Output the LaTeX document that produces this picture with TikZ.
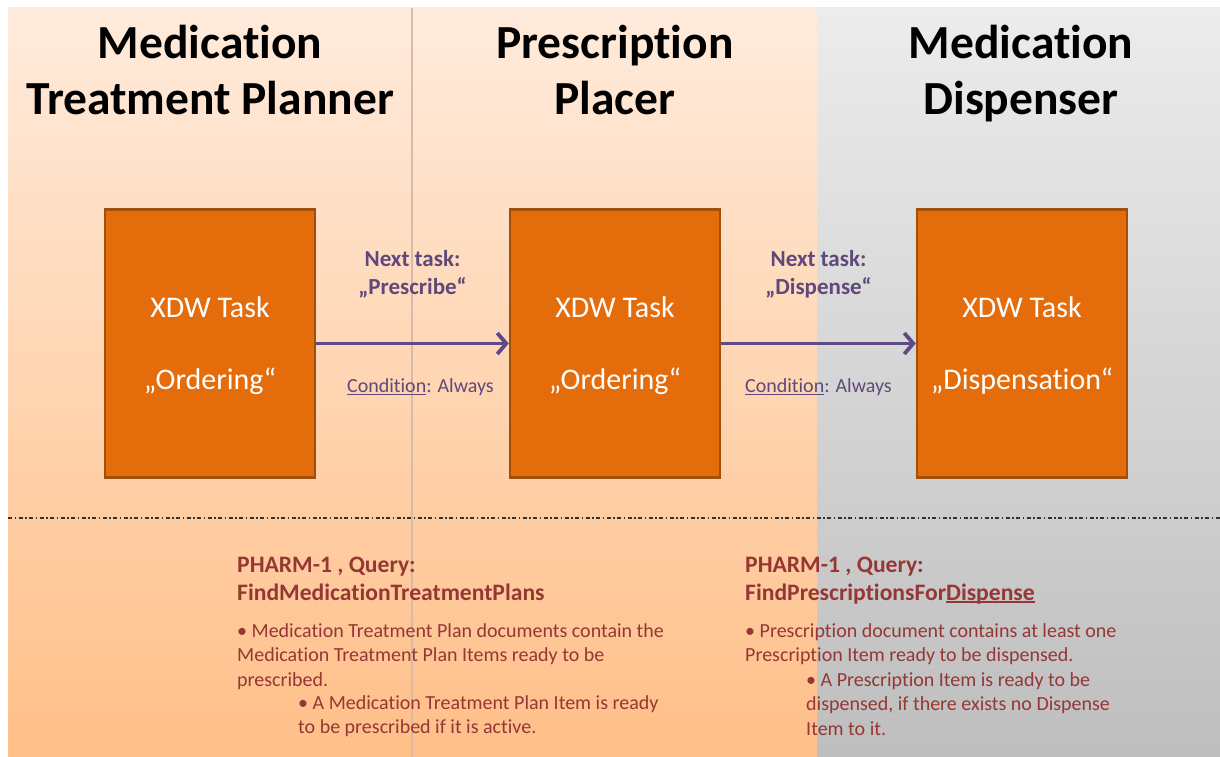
\documentclass[tikz,border=0pt]{standalone}
\usepackage{fontspec}
\setmainfont{Carlito}[Ligatures={NoCommon,NoRare,NoContextual,NoRequired}]
\usetikzlibrary{arrows.meta}
\definecolor{peachtop}{HTML}{FFEBDC}
\definecolor{peachbot}{HTML}{FFBF88}
\definecolor{greytop}{HTML}{ECECEC}
\definecolor{greybot}{HTML}{BEBEBE}
\definecolor{taskfill}{HTML}{E46C0A}
\definecolor{taskline}{HTML}{A0500C}
\definecolor{flowcol}{HTML}{5E4A86}
\definecolor{labcol}{HTML}{5F497A}
\definecolor{querycol}{HTML}{953735}
\definecolor{divcol}{HTML}{D5BBA8}
\newcommand\tix{t\kern0pt i}
\newcommand\ulx[2][1.3pt]{\leavevmode\setbox0\hbox{#2}\rlap{\rule[-3pt]{\wd0}{#1}}\box0}
\newcommand\pbc[2]{\parbox[t]{#1}{\centering #2}}
\newcommand\pbl[2]{\parbox[t]{#1}{\raggedright #2}}
\begin{document}
\begin{tikzpicture}[x=1pt,y=-1pt,
  title/.style={anchor=base,inner sep=0pt,font=\fontsize{47.5}{56}\selectfont\bfseries,text=black},
  taskbox/.style={draw=taskline,fill=taskfill,line width=2.5pt,minimum width=210pt,minimum height=268pt,inner sep=0pt},
  tasktext/.style={anchor=base,inner sep=0pt,font=\fontsize{30}{72}\selectfont,text=white},
  flow/.style={draw=flowcol,line width=3.8pt,-{Straight Barb[length=9pt,width=21pt]}},
  nextlab/.style={anchor=base,inner sep=0pt,font=\fontsize{23}{28}\selectfont\bfseries,text=labcol},
  condlab/.style={anchor=base,inner sep=0pt,font=\fontsize{20}{24}\selectfont,text=labcol},
  qhead/.style={anchor=base west,inner sep=0pt,font=\fontsize{23.6}{28}\selectfont\bfseries,text=querycol},
  qbody/.style={anchor=base west,inner sep=0pt,font=\fontsize{20}{24.5}\selectfont,text=querycol},
  sepline/.style={line width=1.8pt,black!80,dash pattern=on 4pt off 2.5pt on 1.5pt off 2.5pt}
]
\useasboundingbox (0,0) rectangle (1220,757);
% background panels
\shade[top color=peachtop,bottom color=peachbot] (8,8) rectangle (817,757);
\shade[top color=greytop,bottom color=greybot] (817,8) rectangle (1220,757);
\draw[divcol,line width=1.5pt] (412,8) -- (412,757);
\draw[sepline] (8,518) -- (1220,518);

% titles
\node[title] (t1) at (210,59) {\pbc{420pt}{Medica\tix on\\Treatment Planner}};
\node[title] (t2) at (615,59) {\pbc{420pt}{Prescrip\tix on\\Placer}};
\node[title] (t3) at (1021,59) {\pbc{420pt}{Medica\tix on\\Dispenser}};

% task boxes
\node[taskbox] (b1) at (210,343.5) {};
\node[taskbox] (b2) at (615,343.5) {};
\node[taskbox] (b3) at (1022,343.5) {};
\node[tasktext] (x1) at ([yshift=26pt]b1.center) {\pbc{200pt}{XDW Task\\„Ordering“}};
\node[tasktext] (x2) at ([yshift=26pt]b2.center) {\pbc{200pt}{XDW Task\\„Ordering“}};
\node[tasktext] (x3) at ([yshift=26pt]b3.center) {\pbc{200pt}{XDW Task\\„Dispensa\tix on“}};

% connectors
\draw[flow] (b1.east) -- (b2.west)
  node[nextlab,pos=0.5,yshift=77pt] (n1) {\pbc{200pt}{Next task:\\„Prescribe“}}
  node[condlab,pos=0.5,xshift=8pt,yshift=-48.5pt] (c1) {\ulx[1pt]{Condi\tix on}: Always};
\draw[flow] (b2.east) -- (b3.west)
  node[nextlab,pos=0.5,yshift=77pt] (n2) {\pbc{200pt}{Next task:\\„Dispense“}}
  node[condlab,pos=0.5,yshift=-48.5pt] (c2) {\ulx[1pt]{Condi\tix on}: Always};

% queries
\node[qhead] (h1) at (237,572) {\pbl{500pt}{PHARM-1 , Query:\\FindMedica\tix onTreatmentPlans}};
\node[qbody] (p1) at (237,637) {\pbl{500pt}{• Medica\tix on Treatment Plan documents contain the\\Medica\tix on Treatment Plan Items ready to be\\prescribed.}};
\node[qbody] (s1) at (298,709) {\pbl{500pt}{• A Medica\tix on Treatment Plan Item is ready\\to be prescribed if it is ac\tix ve.}};

\node[qhead] (h2) at (745,572) {\pbl{500pt}{PHARM-1 , Query:\\FindPrescrip\tix onsFor\ulx[1.6pt]{Dispense}}};
\node[qbody] (p2) at (745,637) {\pbl{500pt}{• Prescrip\tix on document contains at least one\\Prescrip\tix on Item ready to be dispensed.}};
\node[qbody] (s2) at (806,686) {\pbl{400pt}{• A Prescrip\tix on Item is ready to be\\dispensed, if there exists no Dispense\\Item to it.}};
\end{tikzpicture}
\end{document}
